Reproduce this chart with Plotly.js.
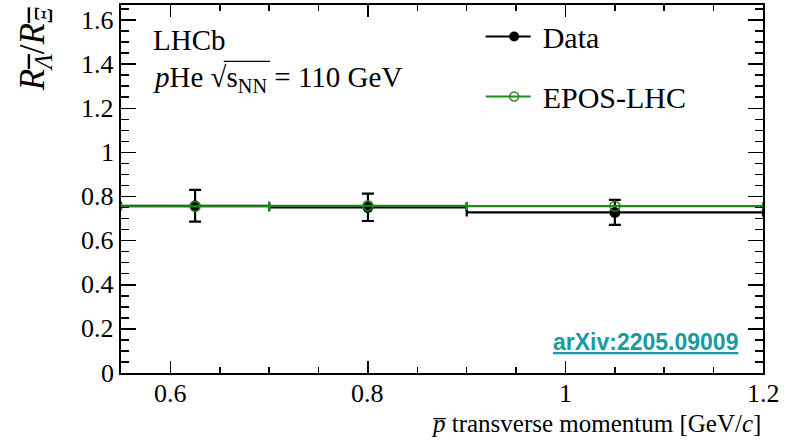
<!DOCTYPE html>
<html><head><meta charset="utf-8">
<script src="https://cdn.plot.ly/plotly-3.0.1.min.js"></script>
<style>
body{margin:0;padding:0;background:#fff}
.legend .traces, .legend .traces *{opacity:1 !important}
</style>
</head><body>
<div id="chart" style="width:792px;height:441px"></div>
<script>
// bin centres and half-widths (GeV/c)
const ptCenters = [0.625, 0.8, 1.05];
const ptHalfWidths = [0.075, 0.1, 0.15];
// data ratio and stat errors
const dataValues = [0.758, 0.751, 0.728];
const dataErrors = [0.072, 0.062, 0.057];
// EPOS-LHC prediction
const eposValues = [0.755, 0.758, 0.756];
const eposErrors = [0.0, 0.0, 0.0];
// tick labels
const xTickVals = [0.6, 0.8, 1.0, 1.2];
const xTickText = ['0.6', '0.8', '1', '1.2'];
const yTickVals = [0, 0.2, 0.4, 0.6, 0.8, 1.0, 1.2, 1.4, 1.6];
const yTickText = ['0', '0.2', '0.4', '0.6', '0.8', '1', '1.2', '1.4', '1.6'];

const serif = 'Liberation Serif, Times New Roman, serif';
const green = '#1f8a1f';

const traces = [
  {
    x: ptCenters, y: dataValues, name: 'Data', type: 'scatter', mode: 'markers', showlegend: false,
    marker: {color: 'black', size: 11, symbol: 'circle'},
    error_x: {type: 'data', array: ptHalfWidths, visible: true, color: 'black', thickness: 2.2, width: 4},
    error_y: {type: 'data', array: dataErrors, visible: true, color: 'black', thickness: 2.2, width: 6}
  },
  {
    x: ptCenters, y: eposValues, name: 'EPOS-LHC', type: 'scatter', mode: 'markers', showlegend: false,
    marker: {color: green, size: 10, symbol: 'circle-open', line: {width: 1.5, color: green}},
    error_x: {type: 'data', array: ptHalfWidths, visible: true, color: green, thickness: 2.2, width: 4},
    error_y: {type: 'data', array: eposErrors, visible: true, color: green, thickness: 2, width: 0}
  },
  // legend entries (line + marker, as in the reference legend)
  {
    x: ptCenters, y: dataValues, name: 'Data', type: 'scatter', mode: 'lines+markers', visible: 'legendonly',
    legendgroup: 'a', line: {color: 'black', width: 2.2}, marker: {color: 'black', size: 10}
  },
  {
    x: ptCenters, y: eposValues, name: 'EPOS-LHC', type: 'scatter', mode: 'lines+markers', visible: 'legendonly',
    legendgroup: 'b', line: {color: green, width: 2.2},
    marker: {color: green, size: 9, symbol: 'circle-open', line: {width: 1.5, color: green}}
  }
];

const tickFont = {family: serif, size: 26, color: 'black'};

// tick labels placed through the axes' own scales
const xTickAnn = xTickVals.map((v, i) => ({
  xref: 'x', yref: 'paper', x: v, y: 0, yshift: -20, xanchor: 'center', yanchor: 'middle',
  showarrow: false, text: xTickText[i], font: tickFont
}));
const yTickAnn = yTickVals.map((v, i) => ({
  xref: 'paper', yref: 'y', x: 0, y: v, xshift: -5, xanchor: 'right', yanchor: 'middle',
  showarrow: false, text: yTickText[i], font: tickFont
}));

const layout = {
  width: 792, height: 441,
  margin: {l: 121, r: 29, t: 5, b: 68},
  paper_bgcolor: 'white', plot_bgcolor: 'white',
  font: {family: serif, size: 26, color: 'black'},
  showlegend: true,
  legend: {x: 0.568, y: 0.985, xanchor: 'left', yanchor: 'top', bgcolor: 'rgba(0,0,0,0)', itemwidth: 47,
           font: {family: serif, size: 30, color: 'black'}, tracegroupgap: 18, traceorder: 'grouped',
           itemclick: false, itemdoubleclick: false},
  xaxis: {
    showgrid: false, zeroline: false, showline: true, mirror: 'allticks', showticklabels: false,
    linecolor: 'black', linewidth: 2, ticks: 'inside', tickcolor: 'black', tickwidth: 1.5,
    range: [0.55, 1.2], tickmode: 'array', tickvals: xTickVals, ticklen: 12,
    minor: {dtick: 0.05, tick0: 0.55, ticks: 'inside', ticklen: 6, tickcolor: 'black', tickwidth: 1.5}
  },
  yaxis: {
    showgrid: false, zeroline: false, showline: true, mirror: 'allticks', showticklabels: false,
    linecolor: 'black', linewidth: 2, ticks: 'inside', tickcolor: 'black', tickwidth: 1.5,
    range: [0, 1.668], tickmode: 'array', tickvals: yTickVals, ticklen: 15,
    minor: {dtick: 0.05, tick0: 0, ticks: 'inside', ticklen: 8, tickcolor: 'black', tickwidth: 1.5}
  },
  shapes: [
    // vinculum of the square root sign
    {type: 'line', xref: 'paper', yref: 'paper', x0: 0.160, x1: 0.232, y0: 0.847, y1: 0.847,
     line: {color: 'black', width: 1.3}}
  ],
  annotations: xTickAnn.concat(yTickAnn, [
    {xref: 'paper', yref: 'paper', x: 0.046, y: 0.905, xanchor: 'left', yanchor: 'middle', showarrow: false,
     text: 'LHCb', font: {family: serif, size: 29, color: 'black'}},
    {xref: 'paper', yref: 'paper', x: 0.046, y: 0.80, xanchor: 'left', yanchor: 'middle', showarrow: false,
     text: '<i>p</i>He √s<sub>NN</sub> = 110 GeV', font: {family: serif, size: 29, color: 'black'}},
    {xref: 'paper', yref: 'paper', x: 0.964, y: 0.085, xanchor: 'right', yanchor: 'middle', showarrow: false,
     text: '<span style="text-decoration:underline"><b>arXiv:2205.09009</b></span>', font: {family: 'Liberation Sans, Arial, sans-serif', size: 23, color: '#1a9ba1'}},
    {xref: 'paper', yref: 'paper', x: 1.0, y: -0.137, xanchor: 'right', yanchor: 'middle', showarrow: false,
     text: '<i>p\u0305</i> transverse momentum [GeV/<i>c</i>]', font: {family: serif, size: 25, color: 'black'}},
    {xref: 'paper', yref: 'paper', x: -0.135, y: 1.0, xanchor: 'center', yanchor: 'top', showarrow: false, textangle: -90,
     text: '<i>R</i><sub><i><span style="text-decoration:overline">Λ</span></i></sub>/<i>R</i><sub><i><span style="text-decoration:overline">Ξ</span></i></sub>', font: {family: serif, size: 35, color: 'black'}}
  ])
};

Plotly.newPlot('chart', traces, layout, {displayModeBar: false, staticPlot: true}).then(() => {
  // lengthen the legend line samples to match the reference (50 px centred on the marker)
  document.querySelectorAll('.legend .legendlines path').forEach(p => p.setAttribute('d', 'M-5,0h50'));
});
</script>
</body></html>
